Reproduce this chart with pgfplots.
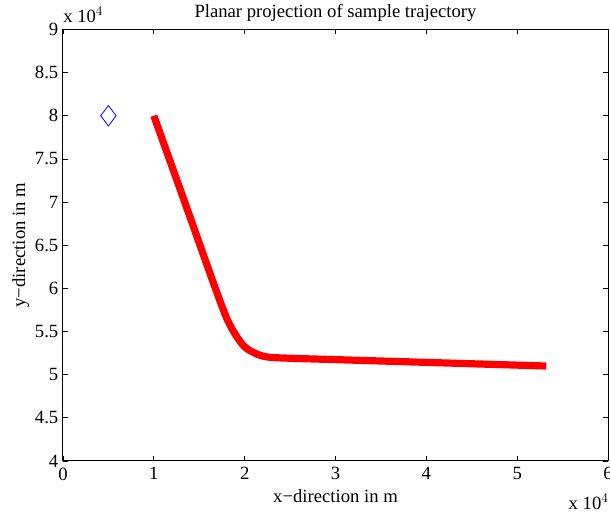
\documentclass[border=0pt]{standalone}
\usepackage{fontspec}
\setmainfont{Liberation Serif}
\usepackage{pgfplots}
\pgfplotsset{compat=1.18}
\begin{document}
\begin{tikzpicture}
\begin{axis}[
  name=ax,
  scale only axis, width=408.75pt, height=323.6pt,
  xmin=0, xmax=60000, ymin=40000, ymax=90000,
  xtick={0,10000,20000,30000,40000,50000,60000},
  xticklabels={0,1,2,3,4,5,6},
  ytick={40000,45000,50000,55000,60000,65000,70000,75000,80000,85000,90000},
  yticklabels={4,4.5,5,5.5,6,6.5,7,7.5,8,8.5,9},
  scaled ticks=false,
  tick align=inside, major tick length=3.75pt,
  tick style={line width=0.6pt, black},
  axis line style={line width=0.75pt},
  ticklabel style={font=\fontsize{14}{16}\selectfont},
  xticklabel style={yshift=-1.5pt},
  /pgf/number format/assume math mode=true,
  every axis title shift=0pt,
  title={Planar projection of sample trajectory},
  title style={font=\fontsize{14}{16}\selectfont, at={(rel axis cs:0.5,1)}, anchor=base, yshift=9.2pt},
  xlabel={x−direction in m},
  xlabel style={font=\fontsize{14}{16}\selectfont, at={(rel axis cs:0.5,0)}, anchor=base, yshift=-31.5pt},
  ylabel={y−direction in m},
  ylabel style={font=\fontsize{14}{16}\selectfont, at={(axis description cs:-0.0697,0.5)}, anchor=base},
  clip=false,
]
\addplot[red, line width=5.4pt, line cap=butt, line join=round, smooth, tension=0.5] coordinates {
(10000,80000) (13500,69700) (17050,59200) (18370,55760) (19800,53440) (21000,52550) (22440,52050) (24970,51900) (30000,51740) (40000,51420) (53200,51000)
};
\addplot[blue, only marks, mark=diamond, mark size=7.7pt, mark options={line width=0.6pt}] coordinates {(5000,80000)};
\coordinate (bl) at (rel axis cs:0,0);
\coordinate (tr) at (rel axis cs:1,1);
\end{axis}
\node[font=\fontsize{14}{16}\selectfont, anchor=base west, inner sep=0pt] at ([yshift=5pt]ax.north west) {x 10$^4$};
\node[font=\fontsize{14}{16}\selectfont, anchor=base east, inner sep=0pt] at ([xshift=0.75pt, yshift=-36.75pt]ax.south east) {x 10$^4$};
\pgfresetboundingbox
\path[use as bounding box] ([xshift=-47.25pt, yshift=-41.25pt]bl) rectangle ([xshift=1.5pt, yshift=22.1pt]tr);
\end{tikzpicture}
\end{document}
